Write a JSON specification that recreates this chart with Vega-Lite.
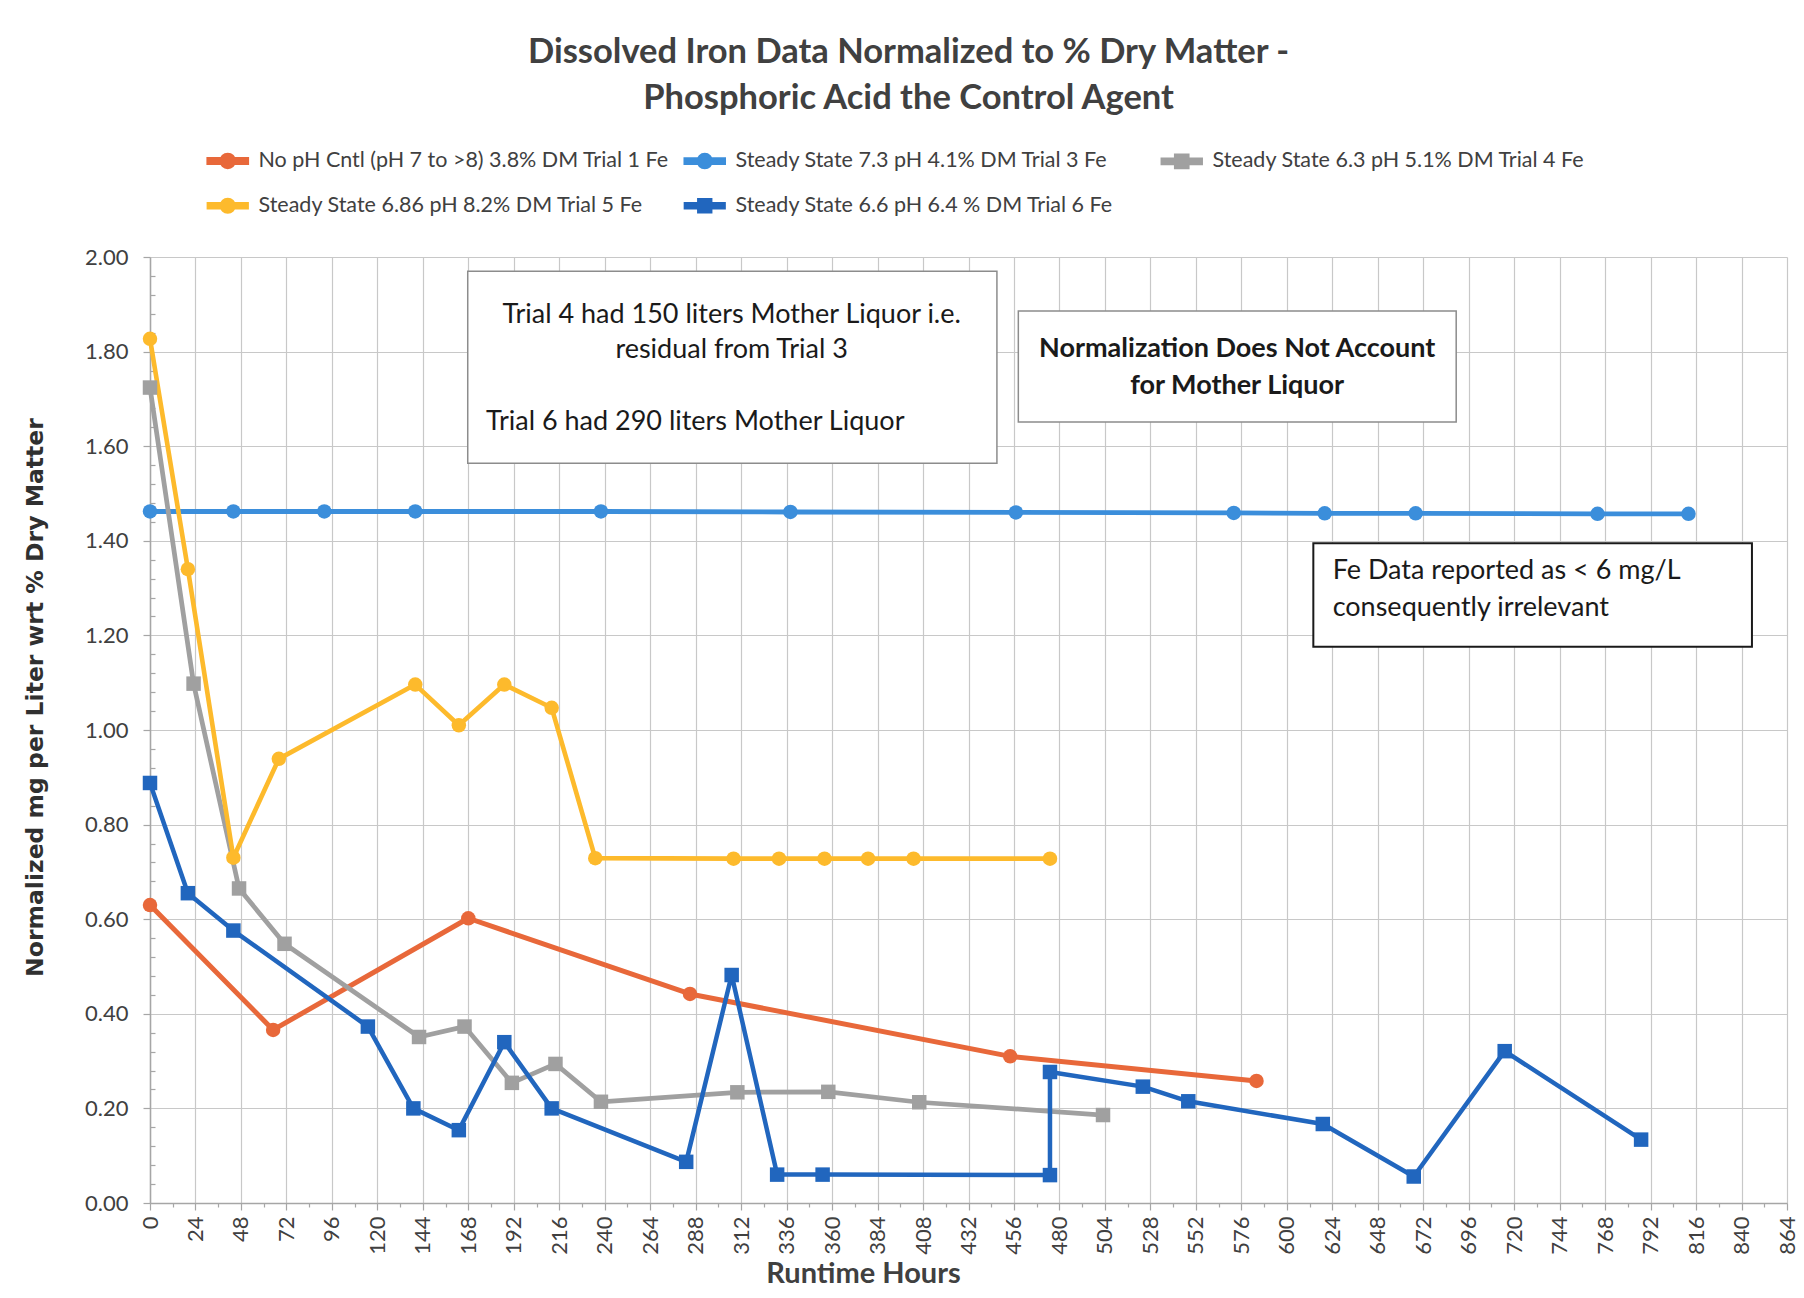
{
  "$schema": "https://vega.github.io/schema/vega-lite/v6.json",
  "width": 1637,
  "height": 946,
  "autosize": {"type": "none"},
  "padding": {"left": 150, "top": 257, "right": 17, "bottom": 95},
  "background": "white",
  "title": {
    "text": ["Dissolved Iron Data Normalized to % Dry Matter -", "Phosphoric Acid the Control Agent"],
    "font": "Lato", "fontSize": 34.5, "fontWeight": "bold", "color": "#404040",
    "anchor": "middle", "dx": -60, "offset": 34, "lineHeight": 46
  },
  "config": {"view": {"stroke": null}, "font": "Lato"},
  "resolve": {"axis": {"x": "independent", "y": "independent"}},
  "datasets": {
    "series": [
      {"series": "No pH Cntl (pH 7 to >8) 3.8% DM Trial 1 Fe", "i": 1, "hours": 0, "fe": 0.63},
      {"series": "No pH Cntl (pH 7 to >8) 3.8% DM Trial 1 Fe", "i": 2, "hours": 65, "fe": 0.366},
      {"series": "No pH Cntl (pH 7 to >8) 3.8% DM Trial 1 Fe", "i": 3, "hours": 168, "fe": 0.602},
      {"series": "No pH Cntl (pH 7 to >8) 3.8% DM Trial 1 Fe", "i": 4, "hours": 285, "fe": 0.442},
      {"series": "No pH Cntl (pH 7 to >8) 3.8% DM Trial 1 Fe", "i": 5, "hours": 454, "fe": 0.31},
      {"series": "No pH Cntl (pH 7 to >8) 3.8% DM Trial 1 Fe", "i": 6, "hours": 584, "fe": 0.258},
      {"series": "Steady State 7.3 pH 4.1% DM Trial 3 Fe", "i": 1, "hours": 0, "fe": 1.462},
      {"series": "Steady State 7.3 pH 4.1% DM Trial 3 Fe", "i": 2, "hours": 44, "fe": 1.462},
      {"series": "Steady State 7.3 pH 4.1% DM Trial 3 Fe", "i": 3, "hours": 92, "fe": 1.462},
      {"series": "Steady State 7.3 pH 4.1% DM Trial 3 Fe", "i": 4, "hours": 140, "fe": 1.462},
      {"series": "Steady State 7.3 pH 4.1% DM Trial 3 Fe", "i": 5, "hours": 238, "fe": 1.462},
      {"series": "Steady State 7.3 pH 4.1% DM Trial 3 Fe", "i": 6, "hours": 338, "fe": 1.461},
      {"series": "Steady State 7.3 pH 4.1% DM Trial 3 Fe", "i": 7, "hours": 457, "fe": 1.46},
      {"series": "Steady State 7.3 pH 4.1% DM Trial 3 Fe", "i": 8, "hours": 572, "fe": 1.459},
      {"series": "Steady State 7.3 pH 4.1% DM Trial 3 Fe", "i": 9, "hours": 620, "fe": 1.458},
      {"series": "Steady State 7.3 pH 4.1% DM Trial 3 Fe", "i": 10, "hours": 668, "fe": 1.458},
      {"series": "Steady State 7.3 pH 4.1% DM Trial 3 Fe", "i": 11, "hours": 764, "fe": 1.457},
      {"series": "Steady State 7.3 pH 4.1% DM Trial 3 Fe", "i": 12, "hours": 812, "fe": 1.457},
      {"series": "Steady State 6.3 pH 5.1% DM Trial 4 Fe", "i": 1, "hours": 0, "fe": 1.724},
      {"series": "Steady State 6.3 pH 5.1% DM Trial 4 Fe", "i": 2, "hours": 23, "fe": 1.098},
      {"series": "Steady State 6.3 pH 5.1% DM Trial 4 Fe", "i": 3, "hours": 47, "fe": 0.665},
      {"series": "Steady State 6.3 pH 5.1% DM Trial 4 Fe", "i": 4, "hours": 71, "fe": 0.548},
      {"series": "Steady State 6.3 pH 5.1% DM Trial 4 Fe", "i": 5, "hours": 142, "fe": 0.351},
      {"series": "Steady State 6.3 pH 5.1% DM Trial 4 Fe", "i": 6, "hours": 166, "fe": 0.373},
      {"series": "Steady State 6.3 pH 5.1% DM Trial 4 Fe", "i": 7, "hours": 191, "fe": 0.254},
      {"series": "Steady State 6.3 pH 5.1% DM Trial 4 Fe", "i": 8, "hours": 214, "fe": 0.294},
      {"series": "Steady State 6.3 pH 5.1% DM Trial 4 Fe", "i": 9, "hours": 238, "fe": 0.214},
      {"series": "Steady State 6.3 pH 5.1% DM Trial 4 Fe", "i": 10, "hours": 310, "fe": 0.234},
      {"series": "Steady State 6.3 pH 5.1% DM Trial 4 Fe", "i": 11, "hours": 358, "fe": 0.235},
      {"series": "Steady State 6.3 pH 5.1% DM Trial 4 Fe", "i": 12, "hours": 406, "fe": 0.213},
      {"series": "Steady State 6.3 pH 5.1% DM Trial 4 Fe", "i": 13, "hours": 503, "fe": 0.186},
      {"series": "Steady State 6.86 pH 8.2% DM Trial 5 Fe", "i": 1, "hours": 0, "fe": 1.827},
      {"series": "Steady State 6.86 pH 8.2% DM Trial 5 Fe", "i": 2, "hours": 20, "fe": 1.34},
      {"series": "Steady State 6.86 pH 8.2% DM Trial 5 Fe", "i": 3, "hours": 44, "fe": 0.73},
      {"series": "Steady State 6.86 pH 8.2% DM Trial 5 Fe", "i": 4, "hours": 68, "fe": 0.939},
      {"series": "Steady State 6.86 pH 8.2% DM Trial 5 Fe", "i": 5, "hours": 140, "fe": 1.096},
      {"series": "Steady State 6.86 pH 8.2% DM Trial 5 Fe", "i": 6, "hours": 163, "fe": 1.01},
      {"series": "Steady State 6.86 pH 8.2% DM Trial 5 Fe", "i": 7, "hours": 187, "fe": 1.096},
      {"series": "Steady State 6.86 pH 8.2% DM Trial 5 Fe", "i": 8, "hours": 212, "fe": 1.047},
      {"series": "Steady State 6.86 pH 8.2% DM Trial 5 Fe", "i": 9, "hours": 235, "fe": 0.729},
      {"series": "Steady State 6.86 pH 8.2% DM Trial 5 Fe", "i": 10, "hours": 308, "fe": 0.728},
      {"series": "Steady State 6.86 pH 8.2% DM Trial 5 Fe", "i": 11, "hours": 332, "fe": 0.728},
      {"series": "Steady State 6.86 pH 8.2% DM Trial 5 Fe", "i": 12, "hours": 356, "fe": 0.728},
      {"series": "Steady State 6.86 pH 8.2% DM Trial 5 Fe", "i": 13, "hours": 379, "fe": 0.728},
      {"series": "Steady State 6.86 pH 8.2% DM Trial 5 Fe", "i": 14, "hours": 403, "fe": 0.728},
      {"series": "Steady State 6.86 pH 8.2% DM Trial 5 Fe", "i": 15, "hours": 475, "fe": 0.728},
      {"series": "Steady State 6.6 pH 6.4 % DM Trial 6  Fe", "i": 1, "hours": 0, "fe": 0.888},
      {"series": "Steady State 6.6 pH 6.4 % DM Trial 6  Fe", "i": 2, "hours": 20, "fe": 0.655},
      {"series": "Steady State 6.6 pH 6.4 % DM Trial 6  Fe", "i": 3, "hours": 44, "fe": 0.576},
      {"series": "Steady State 6.6 pH 6.4 % DM Trial 6  Fe", "i": 4, "hours": 115, "fe": 0.373},
      {"series": "Steady State 6.6 pH 6.4 % DM Trial 6  Fe", "i": 5, "hours": 139, "fe": 0.2},
      {"series": "Steady State 6.6 pH 6.4 % DM Trial 6  Fe", "i": 6, "hours": 163, "fe": 0.154},
      {"series": "Steady State 6.6 pH 6.4 % DM Trial 6  Fe", "i": 7, "hours": 187, "fe": 0.34},
      {"series": "Steady State 6.6 pH 6.4 % DM Trial 6  Fe", "i": 8, "hours": 212, "fe": 0.2},
      {"series": "Steady State 6.6 pH 6.4 % DM Trial 6  Fe", "i": 9, "hours": 283, "fe": 0.087},
      {"series": "Steady State 6.6 pH 6.4 % DM Trial 6  Fe", "i": 10, "hours": 307, "fe": 0.482},
      {"series": "Steady State 6.6 pH 6.4 % DM Trial 6  Fe", "i": 11, "hours": 331, "fe": 0.06},
      {"series": "Steady State 6.6 pH 6.4 % DM Trial 6  Fe", "i": 12, "hours": 355, "fe": 0.06},
      {"series": "Steady State 6.6 pH 6.4 % DM Trial 6  Fe", "i": 13, "hours": 475, "fe": 0.059},
      {"series": "Steady State 6.6 pH 6.4 % DM Trial 6  Fe", "i": 14, "hours": 475, "fe": 0.277},
      {"series": "Steady State 6.6 pH 6.4 % DM Trial 6  Fe", "i": 15, "hours": 524, "fe": 0.246},
      {"series": "Steady State 6.6 pH 6.4 % DM Trial 6  Fe", "i": 16, "hours": 548, "fe": 0.215},
      {"series": "Steady State 6.6 pH 6.4 % DM Trial 6  Fe", "i": 17, "hours": 619, "fe": 0.167},
      {"series": "Steady State 6.6 pH 6.4 % DM Trial 6  Fe", "i": 18, "hours": 667, "fe": 0.056},
      {"series": "Steady State 6.6 pH 6.4 % DM Trial 6  Fe", "i": 19, "hours": 715, "fe": 0.321},
      {"series": "Steady State 6.6 pH 6.4 % DM Trial 6  Fe", "i": 20, "hours": 787, "fe": 0.134}
    ],
    "boxesGray": [
      {"x1": 167.7, "x2": 447, "y1": 1.97, "y2": 1.564},
      {"x1": 458.3, "x2": 689.4, "y1": 1.886, "y2": 1.651}
    ],
    "boxesBlack": [
      {"x1": 614, "x2": 845.5, "y1": 1.395, "y2": 1.176}
    ],
    "notesCenter": [
      {"x": 307, "y": 1.878, "t": "Trial 4 had 150 liters Mother Liquor i.e."},
      {"x": 307, "y": 1.803, "t": "residual from Trial 3"}
    ],
    "notesLeft": [
      {"x": 177.3, "y": 1.652, "t": "Trial 6 had 290 liters Mother Liquor"},
      {"x": 624.2, "y": 1.336, "t": "Fe Data reported as < 6 mg/L"},
      {"x": 624.2, "y": 1.258, "t": "consequently irrelevant"}
    ],
    "notesBold": [
      {"x": 573.8, "y": 1.805, "t": "Normalization Does Not Account"},
      {"x": 573.8, "y": 1.727, "t": "for Mother Liquor"}
    ]
  },
  "layer": [
    {
      "data": {"name": "boxesGray"},
      "mark": {"type": "rect", "fill": "white", "stroke": "#8c8c8c", "strokeWidth": 1.5},
      "encoding": {
        "x": {
          "field": "x1", "type": "quantitative",
          "scale": {"domain": [0, 864], "nice": false, "zero": false},
          "axis": {
            "orient": "bottom",
            "values": [0,24,48,72,96,120,144,168,192,216,240,264,288,312,336,360,384,408,432,456,480,504,528,552,576,600,624,648,672,696,720,744,768,792,816,840,864],
            "labelAngle": -90, "labelFont": "Lato", "labelFontSize": 22, "labelColor": "#404040",
            "labelPadding": 6, "labelFlush": false, "labelOverlap": false,
            "tickSize": 7, "tickColor": "#a6a6a6", "tickWidth": 1.2,
            "domainColor": "#a6a6a6", "domainWidth": 1.5,
            "grid": true, "gridColor": "#c8c8c8", "gridWidth": 1.2,
            "title": "Runtime Hours", "titleFont": "Lato", "titleFontSize": 29, "titleFontWeight": "bold",
            "titleColor": "#404040", "titleX": 713, "titleY": 70, "titleAlign": "center", "titleBaseline": "middle"
          }
        },
        "x2": {"field": "x2"},
        "y": {
          "field": "y1", "type": "quantitative",
          "scale": {"domain": [0, 2], "nice": false},
          "axis": {
            "orient": "left",
            "values": [0, 0.2, 0.4, 0.6, 0.8, 1, 1.2, 1.4, 1.6, 1.8, 2],
            "format": ".2f", "labelFont": "Lato", "labelFontSize": 22, "labelColor": "#404040",
            "labelPadding": 15, "labelFlush": false, "labelOverlap": false,
            "tickSize": 7, "tickColor": "#a6a6a6", "tickWidth": 1.2,
            "domainColor": "#a6a6a6", "domainWidth": 1.5,
            "grid": true, "gridColor": "#c8c8c8", "gridWidth": 1.2,
            "title": "Normalized mg per Liter wrt % Dry Matter", "titleFont": "DejaVu Sans", "titleFontSize": 23.5,
            "titleFontWeight": "bold", "titleColor": "#303030", "titleAngle": 270,
            "titleX": -115, "titleY": 440, "titleAlign": "center", "titleBaseline": "middle"
          }
        },
        "y2": {"field": "y2"}
      }
    },
    {
      "data": {"name": "boxesBlack"},
      "mark": {"type": "rect", "fill": "white", "stroke": "#1a1a1a", "strokeWidth": 2},
      "encoding": {
        "x": {"field": "x1", "type": "quantitative", "axis": null},
        "x2": {"field": "x2"},
        "y": {"field": "y1", "type": "quantitative", "axis": null},
        "y2": {"field": "y2"}
      }
    },
    {
      "data": {"name": "notesCenter"},
      "mark": {"type": "text", "font": "Lato", "fontSize": 27, "color": "#1a1a1a", "align": "center", "baseline": "middle"},
      "encoding": {
        "x": {"field": "x", "type": "quantitative", "axis": null},
        "y": {"field": "y", "type": "quantitative", "axis": null},
        "text": {"field": "t"}
      }
    },
    {
      "data": {"name": "notesLeft"},
      "mark": {"type": "text", "font": "Lato", "fontSize": 27, "color": "#1a1a1a", "align": "left", "baseline": "middle"},
      "encoding": {
        "x": {"field": "x", "type": "quantitative", "axis": null},
        "y": {"field": "y", "type": "quantitative", "axis": null},
        "text": {"field": "t"}
      }
    },
    {
      "data": {"name": "notesBold"},
      "mark": {"type": "text", "font": "Lato", "fontSize": 27, "fontWeight": "bold", "color": "#1a1a1a", "align": "center", "baseline": "middle"},
      "encoding": {
        "x": {"field": "x", "type": "quantitative", "axis": null},
        "y": {"field": "y", "type": "quantitative", "axis": null},
        "text": {"field": "t"}
      }
    },
    {
      "data": {"name": "series"},
      "mark": {"type": "line", "strokeJoin": "round"},
      "encoding": {
        "x": {"field": "hours", "type": "quantitative", "axis": null},
        "y": {"field": "fe", "type": "quantitative", "axis": null},
        "color": {
          "field": "series", "type": "nominal",
          "scale": {
            "domain": ["No pH Cntl (pH 7 to >8) 3.8% DM Trial 1 Fe", "Steady State 7.3 pH 4.1% DM Trial 3 Fe", "Steady State 6.3 pH 5.1% DM Trial 4 Fe", "Steady State 6.86 pH 8.2% DM Trial 5 Fe", "Steady State 6.6 pH 6.4 % DM Trial 6  Fe"],
            "range": ["#E8683A", "#3B8EDB", "#A0A0A0", "#FDBA2C", "#2166BE"]
          },
          "legend": {
            "orient": "none", "legendX": 67, "legendY": -107, "direction": "horizontal",
            "columns": 3, "gridAlign": "all", "columnPadding": 7, "rowPadding": 13,
            "title": null, "padding": 0, "labelFont": "Lato", "labelFontSize": 21.5, "labelColor": "#404040",
            "labelLimit": 800, "labelOffset": 20, "symbolSize": 400,
            "symbolType": "M-2.6,-0.2H2.6V0.2H-2.6Z M0.8,0A0.8,0.8,0,1,1,-0.8,0A0.8,0.8,0,1,1,0.8,0Z",
            "encode": {
              "symbols": {
                "update": {
                  "shape": {"signal": "(indexof(datum.value, 'Trial 4') >= 0 || indexof(datum.value, 'Trial 6') >= 0) ? 'M-2.6,-0.2H2.6V0.2H-2.6Z M-0.75,-0.75H0.75V0.75H-0.75Z' : 'M-2.6,-0.2H2.6V0.2H-2.6Z M0.8,0A0.8,0.8,0,1,1,-0.8,0A0.8,0.8,0,1,1,0.8,0Z'"},
                  "fill": {"signal": "scale('color', datum.value)"},
                  "fillOpacity": {"value": 1},
                  "opacity": {"value": 1},
                  "strokeWidth": {"value": 0},
                  "size": {"value": 400}
                }
              }
            }
          }
        },
        "strokeWidth": {
          "field": "series", "type": "nominal",
          "scale": {
            "domain": ["No pH Cntl (pH 7 to >8) 3.8% DM Trial 1 Fe", "Steady State 7.3 pH 4.1% DM Trial 3 Fe", "Steady State 6.3 pH 5.1% DM Trial 4 Fe", "Steady State 6.86 pH 8.2% DM Trial 5 Fe", "Steady State 6.6 pH 6.4 % DM Trial 6  Fe"],
            "range": [5, 4.5, 3.5, 4, 4.5]
          },
          "legend": null
        },
        "order": {"field": "i", "type": "quantitative"}
      }
    },
    {
      "data": {"name": "series"},
      "transform": [{"filter": {"field": "series", "oneOf": ["No pH Cntl (pH 7 to >8) 3.8% DM Trial 1 Fe", "Steady State 7.3 pH 4.1% DM Trial 3 Fe", "Steady State 6.86 pH 8.2% DM Trial 5 Fe"]}}],
      "mark": {"type": "point", "filled": true, "opacity": 1, "shape": "circle"},
      "encoding": {
        "x": {
          "field": "hours", "type": "quantitative",
          "axis": {
            "orient": "bottom", "title": null, "labels": false, "grid": false, "domain": false,
            "values": [12,36,60,84,108,132,156,180,204,228,252,276,300,324,348,372,396,420,444,468,492,516,540,564,588,612,636,660,684,708,732,756,780,804,828,852],
            "tickSize": 4, "tickColor": "#a6a6a6", "tickWidth": 1.2
          }
        },
        "y": {
          "field": "fe", "type": "quantitative",
          "axis": {
            "orient": "left", "title": null, "labels": false, "grid": false, "domain": false,
            "values": [0.04,0.08,0.12,0.16,0.24,0.28,0.32,0.36,0.44,0.48,0.52,0.56,0.64,0.68,0.72,0.76,0.84,0.88,0.92,0.96,1.04,1.08,1.12,1.16,1.24,1.28,1.32,1.36,1.44,1.48,1.52,1.56,1.64,1.68,1.72,1.76,1.84,1.88,1.92,1.96],
            "tickSize": -5, "tickColor": "#a6a6a6", "tickWidth": 1.2
          }
        },
        "color": {"field": "series", "type": "nominal", "legend": null},
        "size": {
          "field": "series", "type": "nominal",
          "scale": {
            "domain": ["No pH Cntl (pH 7 to >8) 3.8% DM Trial 1 Fe", "Steady State 7.3 pH 4.1% DM Trial 3 Fe", "Steady State 6.3 pH 5.1% DM Trial 4 Fe", "Steady State 6.86 pH 8.2% DM Trial 5 Fe", "Steady State 6.6 pH 6.4 % DM Trial 6  Fe"],
            "range": [210, 210, 225, 210, 256]
          },
          "legend": null
        }
      }
    },
    {
      "data": {"name": "series"},
      "transform": [{"filter": {"field": "series", "oneOf": ["Steady State 6.3 pH 5.1% DM Trial 4 Fe", "Steady State 6.6 pH 6.4 % DM Trial 6  Fe"]}}],
      "mark": {"type": "point", "filled": true, "opacity": 1, "shape": "square"},
      "encoding": {
        "x": {"field": "hours", "type": "quantitative", "axis": null},
        "y": {"field": "fe", "type": "quantitative", "axis": null},
        "color": {"field": "series", "type": "nominal", "legend": null},
        "size": {"field": "series", "type": "nominal", "legend": null}
      }
    }
  ]
}
